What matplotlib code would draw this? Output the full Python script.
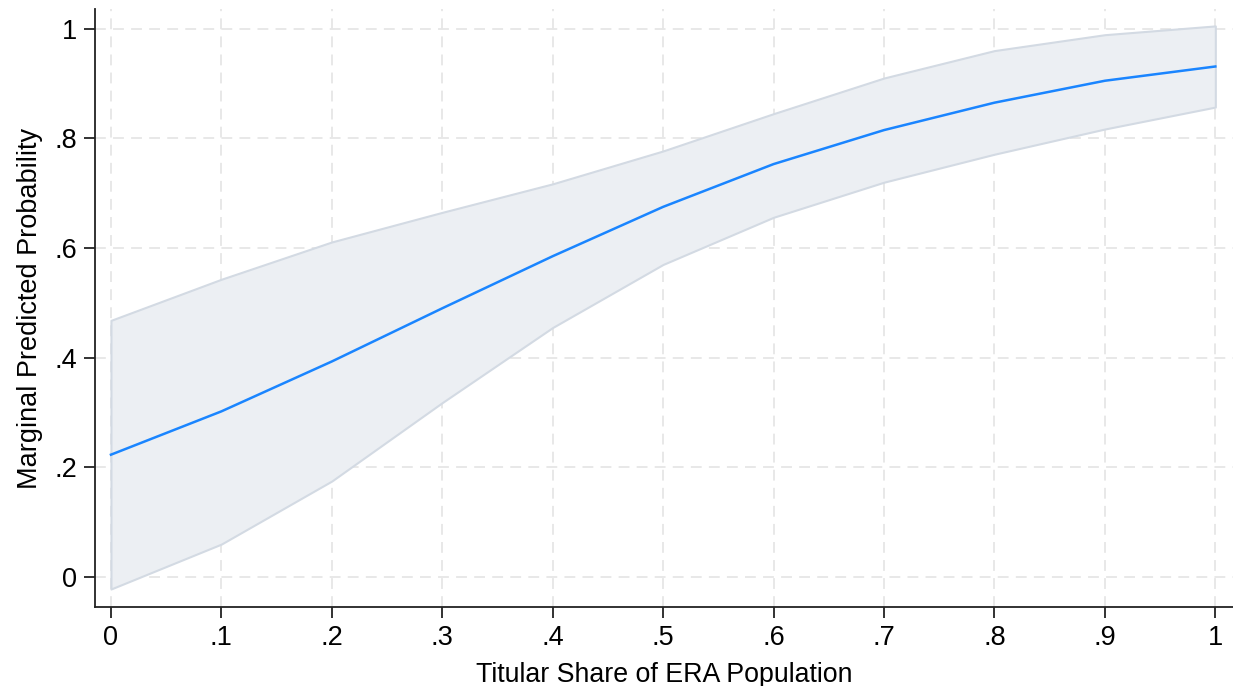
import numpy as np
import matplotlib
matplotlib.use("Agg")
import matplotlib.pyplot as plt
from matplotlib import rcParams

rcParams['font.family'] = ['Liberation Sans', 'DejaVu Sans']

# marginal predictions
share = [0.0, 0.1, 0.2, 0.3, 0.4, 0.5, 0.6, 0.7, 0.8, 0.9, 1.0]
margin = [0.223, 0.302, 0.393, 0.490, 0.585, 0.675, 0.753, 0.815, 0.865, 0.905, 0.931]
ci_upper = [0.468, 0.543, 0.611, 0.665, 0.717, 0.777, 0.845, 0.910, 0.960, 0.989, 1.005]
ci_lower = [-0.022, 0.060, 0.175, 0.318, 0.455, 0.570, 0.656, 0.720, 0.771, 0.817, 0.857]

xticks = [0, 0.1, 0.2, 0.3, 0.4, 0.5, 0.6, 0.7, 0.8, 0.9, 1.0]
xticklabels = ["0", ".1", ".2", ".3", ".4", ".5", ".6", ".7", ".8", ".9", "1"]
yticks = [0, 0.2, 0.4, 0.6, 0.8, 1.0]
yticklabels = ["0", ".2", ".4", ".6", ".8", "1"]

fig = plt.figure(figsize=(12.33, 6.86), dpi=100)
ax = fig.add_axes([0.077, 0.115, 0.923, 0.872])

ax.fill_between(share, ci_lower, ci_upper, facecolor="#eceff3",
                edgecolor="#d3dae3", linewidth=1.5, zorder=2)
ax.plot(share, margin, color="#1a85ff", linewidth=1.8, zorder=3)

ax.set_xlim(-0.0145, 1.016)
ax.set_ylim(-0.055, 1.036)

ax.set_xticks(xticks)
ax.set_xticklabels(xticklabels)
ax.set_yticks(yticks)
ax.set_yticklabels(yticklabels)

ax.grid(True, color="#e6e6e6", linestyle=(0, (6, 4)), linewidth=1.3, zorder=0)
ax.set_axisbelow(True)

for s in ["top", "right"]:
    ax.spines[s].set_visible(False)
for s in ["left", "bottom"]:
    ax.spines[s].set_linewidth(1.3)
    ax.spines[s].set_color("#222222")

ax.tick_params(axis="both", length=8, width=1.3, color="#222222",
               labelsize=19.5, pad=5)

ax.set_xlabel("Titular Share of ERA Population", fontsize=19.3, labelpad=8)
ax.set_ylabel("Marginal Predicted Probability", fontsize=19.5, labelpad=8)

fig.savefig("out.png", dpi=100, facecolor="white")
